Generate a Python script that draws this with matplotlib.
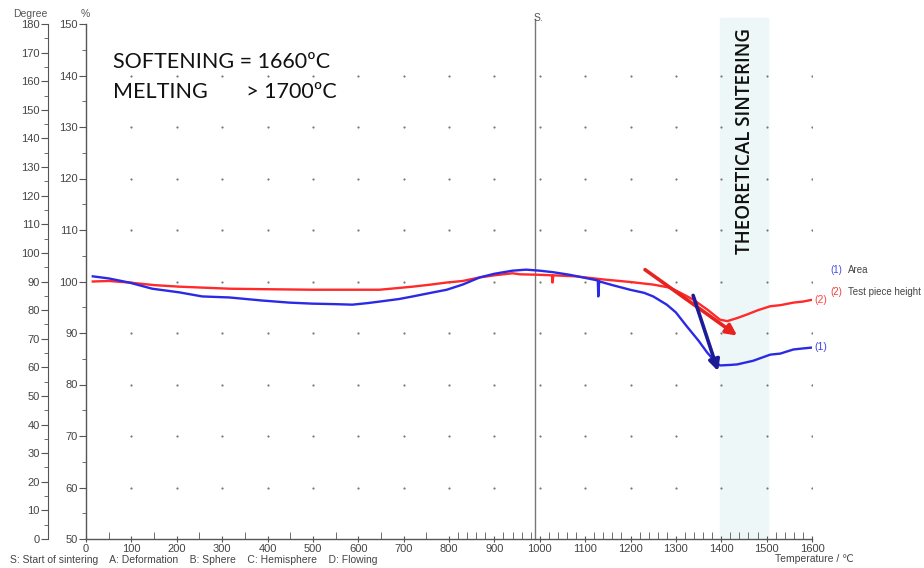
import matplotlib
matplotlib.use("Agg")
import matplotlib.pyplot as plt
import numpy as np
from matplotlib.ticker import MultipleLocator, FixedLocator

# ---------------- data ----------------
area_T = [15, 50, 95, 146, 205, 256, 316, 389, 448, 499, 550, 587, 620, 647, 690, 720,
          760, 795, 830, 868, 900, 940, 970, 1000, 1030, 1066, 1100, 1128, 1129, 1131,
          1132, 1160, 1199, 1230, 1250, 1280, 1300, 1324, 1350, 1369, 1385, 1397, 1420,
          1435, 1470, 1508, 1530, 1559, 1580, 1603]
area_val = [101.0, 100.6, 99.8, 98.6, 97.9, 97.1, 96.9, 96.3, 95.9, 95.7, 95.6, 95.5,
            95.8, 96.1, 96.6, 97.1, 97.8, 98.4, 99.4, 100.8, 101.5, 102.1, 102.3, 102.1,
            101.8, 101.3, 100.7, 100.2, 97.1, 100.1, 100.0, 99.3, 98.4, 97.8, 97.1, 95.5,
            94.0, 91.3, 88.5, 86.2, 84.6, 83.7, 83.8, 83.9, 84.6, 85.8, 86.0, 86.8, 87.0, 87.2]

height_T = [15, 50, 95, 150, 205, 260, 316, 400, 499, 580, 647, 720, 760, 795, 830, 868,
            900, 940, 956, 1000, 1027, 1028, 1030, 1080, 1140, 1200, 1250, 1287, 1310,
            1338, 1370, 1397, 1413, 1435, 1457, 1480, 1508, 1530, 1559, 1580, 1603]
height_val = [100.0, 100.1, 99.8, 99.3, 99.0, 98.8, 98.6, 98.5, 98.4, 98.4, 98.4, 99.0,
              99.4, 99.8, 100.1, 100.8, 101.2, 101.6, 101.4, 101.3, 101.2, 99.8, 101.2,
              101.0, 100.4, 99.9, 99.4, 98.8, 97.8, 96.5, 94.5, 92.6, 92.3, 92.9, 93.6,
              94.4, 95.2, 95.4, 95.9, 96.1, 96.5]

sintering_start = 990
sinter_zone = (1397, 1503)
red_arrow = ((1232, 102.3), (1435, 89.5))
blue_arrow = ((1338, 97.3), (1393, 82.6))

x_major = list(range(0, 1700, 100))
pct_major = list(range(50, 160, 10))
deg_major = list(range(0, 190, 10))
bottom_note = "S: Start of sintering    A: Deformation    B: Sphere    C: Hemisphere    D: Flowing"

# ---------------- figure ----------------
W, H = 924, 568
fig = plt.figure(figsize=(W / 100, H / 100), dpi=100)
fig.patch.set_facecolor("white")
plt.rcParams['font.family'] = ['Liberation Sans', 'DejaVu Sans']

L, R, B, T = 86 / W, 812 / W, 1 - 539 / H, 1 - 24 / H
ax = fig.add_axes([L, B, R - L, T - B])
ax.set_xlim(0, 1600)
ax.set_ylim(50, 150)
ax.set_facecolor("none")
for s in ["top", "right"]:
    ax.spines[s].set_visible(False)
for s in ["left", "bottom"]:
    ax.spines[s].set_color("#555555")
    ax.spines[s].set_linewidth(1.0)

tick_col = "#555555"
lab_col = "#444444"
ax.yaxis.set_major_locator(FixedLocator(pct_major))
ax.yaxis.set_minor_locator(MultipleLocator(5))
ax.tick_params(axis="y", which="major", length=5, color=tick_col, labelsize=8, labelcolor=lab_col, pad=1)
ax.tick_params(axis="y", which="minor", length=3, color=tick_col)

ax.xaxis.set_major_locator(FixedLocator(x_major))
minor_x = list(range(50, 800, 100)) + list(range(800, 1601, 20))
ax.xaxis.set_minor_locator(FixedLocator(minor_x))
ax.tick_params(axis="x", which="major", length=5, direction="inout", color=tick_col,
               labelsize=8, labelcolor=lab_col, pad=1)
ax.tick_params(axis="x", which="minor", length=5, direction="in", color=tick_col)

# degree axis
ax2 = fig.add_axes([L, B, R - L, T - B])
ax2.set_ylim(0, 180)
ax2.set_facecolor("none")
ax2.patch.set_visible(False)
for s in ["top", "right", "bottom"]:
    ax2.spines[s].set_visible(False)
ax2.spines["left"].set_position(("axes", (48 - 86) / (812 - 86)))
ax2.spines["left"].set_color("#555555")
ax2.set_xticks([])
ax2.yaxis.set_major_locator(FixedLocator(deg_major))
ax2.yaxis.set_minor_locator(MultipleLocator(5))
ax2.tick_params(axis="y", which="major", length=5, color=tick_col, labelsize=8, labelcolor=lab_col, pad=1)
ax2.tick_params(axis="y", which="minor", length=3, color=tick_col)

# shaded zone
ax.axvspan(sinter_zone[0], sinter_zone[1], ymin=0, ymax=1.012, color="#eef7f8", zorder=0, clip_on=False)

# dotted grid
gx, gy = np.meshgrid(np.arange(100, 1601, 100), np.arange(60, 141, 10))
ax.scatter(gx.ravel(), gy.ravel(), s=2.5, color="#777777", zorder=1, linewidths=0)

# S line
ax.axvline(sintering_start, ymin=0, ymax=1.01, color="#777777", lw=1.0, zorder=2, clip_on=False)
fig.text((536 + 2) / W, 1 - 18 / H, "S.", fontsize=7.5, color="#555555", ha="center", va="center")

# curves
ax.plot(height_T, height_val, color="#ff2a2a", lw=1.7, zorder=3)
ax.plot(area_T, area_val, color="#2a2ae6", lw=1.7, zorder=4)

# arrows
ax.annotate("", xy=red_arrow[1], xytext=red_arrow[0],
            arrowprops=dict(arrowstyle="-|>", color="#e8231f", lw=2.6, mutation_scale=16,
                            shrinkA=0, shrinkB=0), zorder=6)
ax.annotate("", xy=blue_arrow[1], xytext=blue_arrow[0],
            arrowprops=dict(arrowstyle="-|>", color="#1c1c96", lw=2.6, mutation_scale=16,
                            shrinkA=0, shrinkB=0), zorder=6)

# end labels
ax.text(1606, height_val[-1], "(2)", color="#ff4040", fontsize=7.5, va="center", ha="left", clip_on=False)
ax.text(1606, area_val[-1], "(1)", color="#4040e6", fontsize=7.5, va="center", ha="left", clip_on=False)

# legend
fig.text(830 / W, 1 - 270 / H, "(1)", color="#4a4ae6", fontsize=7, va="center")
fig.text(848 / W, 1 - 270 / H, "Area", color="#444444", fontsize=7, va="center")
fig.text(830 / W, 1 - 292 / H, "(2)", color="#f04040", fontsize=7, va="center")
fig.text(848 / W, 1 - 292 / H, "Test piece height", color="#444444", fontsize=7, va="center")

# axis titles
fig.text(30 / W, 1 - 14 / H, "Degree", fontsize=7.5, color="#555555", ha="center", va="center")
fig.text(85 / W, 1 - 14 / H, "%", fontsize=7.5, color="#555555", ha="center", va="center")
fig.text(775 / W, 1 - 559 / H, "Temperature / \u2103", fontsize=7.5, color="#444444", ha="left", va="center")
fig.text(10 / W, 1 - 560 / H, bottom_note, fontsize=7.5, color="#444444", ha="left", va="center")

# annotations
fig.text(113 / W, 1 - 62 / H, "SOFTENING = 1660\u00baC", fontsize=15.5, color="#111111",
         ha="left", va="center", family=["Lato", "DejaVu Sans"])
fig.text(113 / W, 1 - 92 / H, "MELTING       > 1700\u00baC", fontsize=15.5, color="#111111",
         ha="left", va="center", family=["Lato", "DejaVu Sans"])
fig.text(745 / W, 1 - 141 / H, "THEORETICAL SINTERING", fontsize=13.5, color="#111111",
         rotation=90, ha="center", va="center", weight="semibold",
         family=["Open Sans", "DejaVu Sans"])

fig.savefig("out.png", dpi=100)
